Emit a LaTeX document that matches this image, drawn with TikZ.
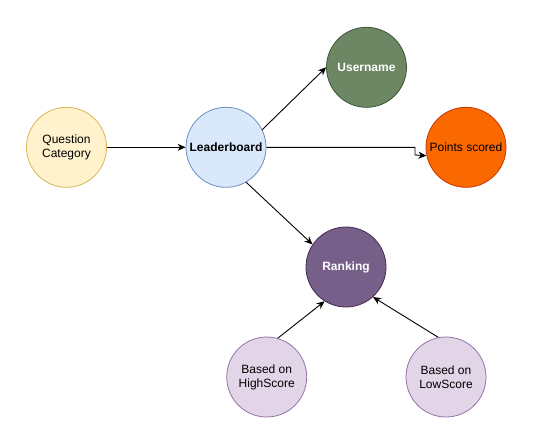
\documentclass[tikz,border=0pt]{standalone}
\usepackage{fontspec}
\setmainfont{Liberation Sans}
\usetikzlibrary{arrows.meta}
\definecolor{qcfill}{HTML}{FFF2CC}\definecolor{qcdraw}{HTML}{D6B656}
\definecolor{lbfill}{HTML}{DAE8FC}\definecolor{lbdraw}{HTML}{6C8EBF}
\definecolor{unfill}{HTML}{6D8764}\definecolor{undraw}{HTML}{3A5431}
\definecolor{psfill}{HTML}{FA6800}\definecolor{psdraw}{HTML}{C73500}
\definecolor{rkfill}{HTML}{76608A}\definecolor{rkdraw}{HTML}{432D57}
\definecolor{lpfill}{HTML}{E1D5E7}\definecolor{lpdraw}{HTML}{9673A6}
\begin{document}
\begin{tikzpicture}[x=1pt,y=-1pt,
  circ/.style={circle,minimum size=80pt,inner sep=0pt,line width=0.8pt,align=center,font=\fontsize{12}{14}\selectfont},
  conn/.style={line width=0.9pt,-{Stealth[length=8pt,width=7pt,inset=2.5pt]}}]
\useasboundingbox (0,0) rectangle (539,442);
\node[circ,fill=qcfill,draw=qcdraw] (qc) at (66.5,147.3) {Question\\Category};
\node[circ,fill=lbfill,draw=lbdraw,font=\fontsize{12}{14}\selectfont\bfseries] (lb) at (226,147.3) {Leaderboard};
\node[circ,fill=unfill,draw=undraw,text=white,font=\fontsize{12}{14}\selectfont\bfseries] (un) at (366.5,67.3) {Username};
\node[circ,fill=psfill,draw=psdraw] (ps) at (466,147.3) {Points scored};
\node[circ,fill=rkfill,draw=rkdraw,text=white,font=\fontsize{12}{14}\selectfont\bfseries] (rk) at (346,267) {Ranking};
\node[circ,fill=lpfill,draw=lpdraw] (hs) at (266.7,377) {Based on\\HighScore};
\node[circ,fill=lpfill,draw=lpdraw] (ls) at (446,377) {Based on\\LowScore};
\coordinate (j1) at (415,147.3);
\coordinate (j2) at (415,155);
\draw[conn] (qc.east) -- (lb.west);
\draw[conn] (lb.26) -- (un.west);
\draw[conn] (lb.east) -- (j1) -- (j2) -- (ps.-168.5);
\draw[conn] (lb.-60) -- (rk.146);
\draw[conn] (hs.74) -- (rk.-122.6);
\draw[conn] (ls.101) -- (rk.-48.2);
\end{tikzpicture}
\end{document}
